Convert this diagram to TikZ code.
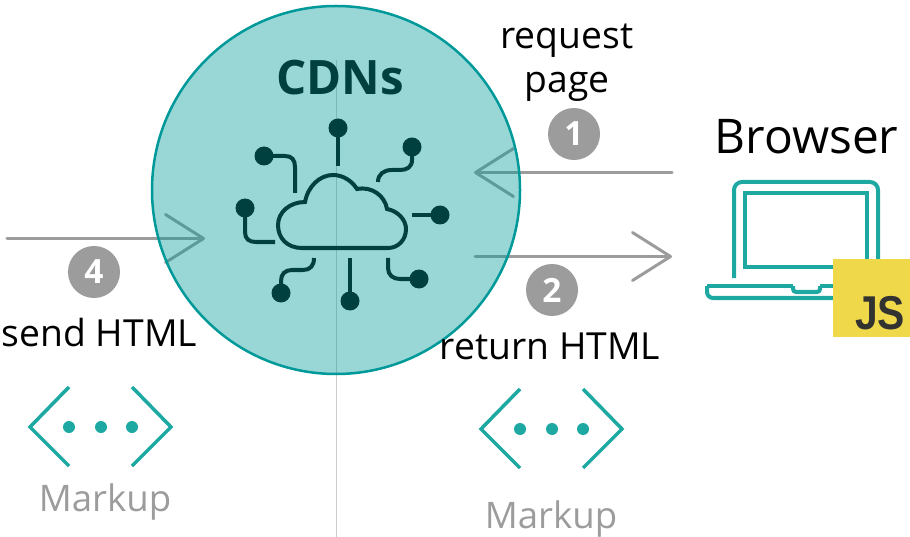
\documentclass[tikz,border=0pt]{standalone}
\usepackage{fontspec}
\setmainfont{Open Sans}
\newfontfamily\jsfont{Liberation Sans}
\usetikzlibrary{arrows.meta}

\definecolor{cdnteal}{HTML}{009999}
\definecolor{cdndark}{HTML}{00403E}
\definecolor{iconteal}{HTML}{1DA8A2}
\definecolor{arrowgray}{HTML}{9C9C9C}
\definecolor{jsyellow}{HTML}{EFD94B}
\definecolor{jsdark}{HTML}{323330}

\tikzset{
	label text/.style = {inner sep = 0pt, font = \fontsize{10.6}{12}\selectfont},
	markup text/.style = {inner sep = 0pt, text = arrowgray, font = \fontsize{10.4}{12}\selectfont},
	flow/.style = {draw = arrowgray, line width = 0.03cm, line cap = round, -{Straight Barb[length = 0.38cm, width = 0.48cm, round]}},
	badge/.style = {circle, fill = arrowgray, text = white, inner sep = 0pt, minimum size = 0.52cm, font = \fontsize{9.5}{11}\selectfont\bfseries},
	wire/.style = {draw = cdndark, line width = 0.04cm},
	screen/.style = {draw = iconteal, line width = 0.04cm},
	markup icon/.pic = {
		\draw[iconteal, line width = 0.035cm] (41,-40) -- (2,0) -- (41,39);
		\draw[iconteal, line width = 0.035cm] (104,-40) -- (143,0) -- (104,39);
		\foreach \x in {41,73,104}
			\fill[iconteal] (\x,0) circle (6);
	}
}

\begin{document}
\begin{tikzpicture}[x = 0.01cm, y = -0.01cm]
	\useasboundingbox (0,0) rectangle (910,537);
	% linea central
	\coordinate (axisTop) at (336,60);
	\coordinate (axisEnd) at (336,537);
	\draw[color = black!20, line width = 0.01cm] (axisTop) -- (axisEnd);
	% fletxes
	\coordinate (reqStart) at (672,172.5);
	\coordinate (reqEnd) at (474,172.5);
	\coordinate (retStart) at (475,256.5);
	\coordinate (retEnd) at (672,256.5);
	\coordinate (sendStart) at (7,238.5);
	\coordinate (sendEnd) at (205,238.5);
	\draw[flow] (reqStart) -- (reqEnd);
	\draw[flow] (retStart) -- (retEnd);
	\draw[flow] (sendStart) -- (sendEnd);
	% bola
	\fill[color = cdnteal, opacity = 0.4] (336,190) circle (184);
	\draw[color = cdnteal, line width = 0.025cm] (336,190) circle (184);
	\node[inner sep = 0pt, text = cdndark, font = \fontsize{13.5}{15}\selectfont\bfseries] (cdnLabel) at (340,78) {CDNs};
	% nuvol
	\draw[wire] (302,248) .. controls (287,248) and (278,238) .. (278,225)
		.. controls (278,212) and (290,202) .. (305,202)
		.. controls (308,186) and (320,175) .. (333,175)
		.. controls (343,175) and (352,181) .. (357,189)
		.. controls (372,186) and (385,196) .. (387,209)
		.. controls (398,211) and (406,220) .. (406,229)
		.. controls (406,240) and (398,248) .. (388,248) -- cycle;
	% cables
	\draw[wire] (338,128) -- (338,166);
	\draw[wire] (412,147) -- (412,160) .. controls (412,167) and (407,170) .. (400,170) -- (392,170) .. controls (384,170) and (378,174) .. (378,182);
	\draw[wire] (440,215) -- (412,215);
	\draw[wire] (419,279) -- (400,279) .. controls (393,279) and (388,275) .. (388,268) -- (388,258);
	\draw[wire] (350,301) -- (350,258);
	\draw[wire] (281,293) -- (281,281) .. controls (281,274) and (285,270) .. (292,270) -- (303,270) .. controls (310,270) and (314,266) .. (314,258);
	\draw[wire] (245,208) -- (245,232) .. controls (245,239) and (249,242) .. (256,242) -- (275,242);
	\draw[wire] (264,156) -- (285,156) .. controls (292,156) and (295,160) .. (295,167) -- (295,193);
	\foreach \x/\y in {338/128, 412/147, 440/215, 419/279, 350/301, 281/293, 245/208, 264/156}
		\fill[color = cdndark] (\x,\y) circle (9.5);
	% portatil
	\draw[screen, rounded corners = 0.08cm] (734,278) -- (734,182) -- (878,182) -- (878,262);
	\draw[screen] (745,193) rectangle (867,267);
	\draw[screen, rounded corners = 0.06cm] (833,298) -- (707,298) -- (707,286);
	\draw[screen] (707,286) -- (793,286);
	\draw[screen, rounded corners = 0.03cm] (793,286) -- (793,292) -- (820,292) -- (820,286);
	\draw[screen] (820,286) -- (833,286);
	\node[inner sep = 0pt, minimum width = 0.77cm, minimum height = 0.78cm, fill = jsyellow] (jsBox) at (871.5,298) {};
	\node[inner sep = 0pt, text = jsdark, xscale = 0.86, font = \fontsize{13.5}{15}\selectfont\jsfont\bfseries] (jsLabel) at (880,313) {JS};
	% textos
	\node[label text] (reqLabel) at (567,41) {request};
	\node[label text] (pageLabel) at (567,87) {page};
	\node[label text, font = \fontsize{13.6}{16}\selectfont] (browserLabel) at (806.5,137) {Browser};
	\node[label text] (returnLabel) at (550,346) {return HTML};
	\node[label text] (sendLabel) at (99.5,333) {send HTML};
	\node[badge] (stepOne) at (574,134) {1};
	\node[badge] (stepTwo) at (552,290) {2};
	\node[badge] (stepFour) at (94,272) {4};
	% markup
	\pic at (28,427) {markup icon};
	\pic at (479,429) {markup icon};
	\node[markup text] (markupLeft) at (105,502) {Markup};
	\node[markup text] (markupRight) at (551,519) {Markup};
\end{tikzpicture}
\end{document}
